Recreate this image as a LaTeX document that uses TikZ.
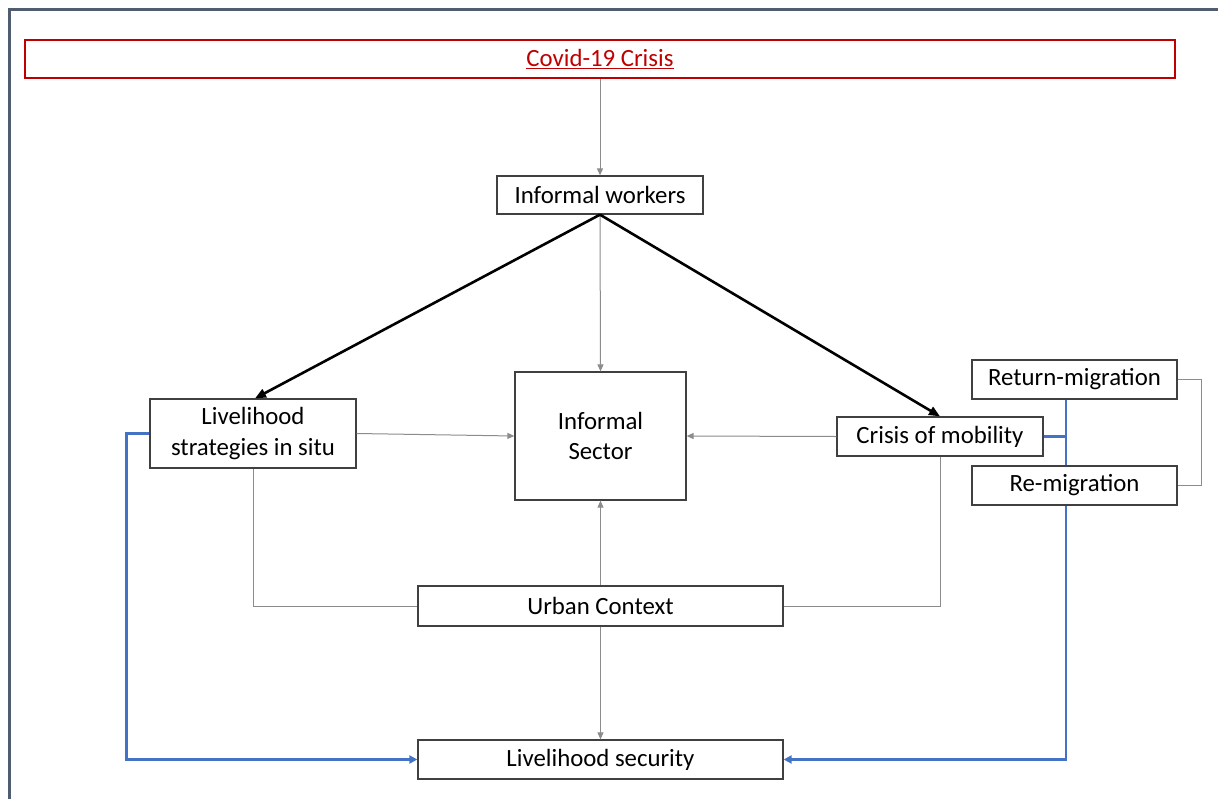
\documentclass[tikz,border=0pt]{standalone}
\usepackage{fontspec}
\setmainfont{Carlito}
\usetikzlibrary{arrows.meta}
\definecolor{boxline}{HTML}{404040}
\definecolor{linkgray}{HTML}{8C8C8C}
\definecolor{loopblue}{HTML}{4472C4}
\definecolor{crisisred}{HTML}{C00000}
\definecolor{framegray}{HTML}{515C6E}
\tikzset{
  box/.style={draw=boxline, line width=1.3pt, fill=white, inner sep=0pt,
    align=center, font=\fontsize{24.8}{30.5}\selectfont},
  link/.style={draw=linkgray, line width=1pt},
  linkarrow/.style={link, -{Triangle[length=7pt,width=6pt]}},
  mainarrow/.style={draw=black, line width=2.6pt, -{Triangle[length=11pt,width=9pt]}},
  loop/.style={draw=loopblue, line width=2.6pt},
  looparrow/.style={loop, -{Triangle[length=8pt,width=8pt]}}
}
\begin{document}
\begin{tikzpicture}[x=1pt,y=-1pt]
\useasboundingbox (0,0) rectangle (1218,798);
\clip (0,0) rectangle (1218,798);
\fill[white] (0,0) rectangle (1218,798);
% page frame, running off the right and bottom edges
\draw[framegray, line width=3pt] (9,9) rectangle (1240,830);

% boxes
\node[box, draw=crisisred, line width=2.6pt, minimum width=1150pt, minimum height=38pt]
  (covid) at (600,59) {\textcolor{crisisred}{\underline{Covid-19 Crisis}}};
\node[box, minimum width=206pt, minimum height=38pt] (workers) at (600,195) {Informal workers};
\node[box, minimum width=206pt, minimum height=69pt] (situ) at (253,433.5) {Livelihood\\strategies in situ};
\node[box, minimum width=171pt, minimum height=128pt] (sector) at (600.5,436) {Informal\\Sector};
\node[box, minimum width=206pt, minimum height=39pt] (mobility) at (940,436.5) {Crisis of mobility};
\node[box, minimum width=205pt, minimum height=39pt] (return) at (1074.5,379.5) {Return-migration};
\node[box, minimum width=205pt, minimum height=39pt] (remig) at (1074.5,485.5) {Re-migration};
\node[box, minimum width=365pt, minimum height=40pt] (urban) at (600.5,606) {Urban Context};
\node[box, minimum width=365pt, minimum height=39pt] (security) at (600.5,759.5) {Livelihood security};

% thin grey links
\draw[linkarrow] (covid.south -| workers.north) -- (workers.north);
\draw[linkarrow] (workers.south) -- (sector.north);
\draw[linkarrow] (situ.east) -- (sector.west);
\draw[linkarrow] (mobility.west) -- (sector.east);
\draw[linkarrow] (urban.north) -- (sector.south);
\draw[linkarrow] (urban.south) -- (security.north);
\draw[link] (urban.west) -| (situ.south);
\draw[link] (urban.east) -| (mobility.south);
\draw[link] (return.east) -- ++(24,0) |- (remig.east);

% main branches
\draw[mainarrow] (workers.south) -- ([xshift=2pt]situ.north);
\draw[mainarrow] (workers.south) -- (mobility.north);

% blue feedback paths into livelihood security
\coordinate (spine) at (1066,436.5);
\draw[looparrow] (situ.west) -- ++(-23,0) |- (security.west);
\draw[loop] (mobility.east) -- (spine);
\draw[loop] (return.south -| spine) -- (remig.north -| spine);
\draw[looparrow] (remig.south -| spine) |- (security.east);
\end{tikzpicture}
\end{document}
